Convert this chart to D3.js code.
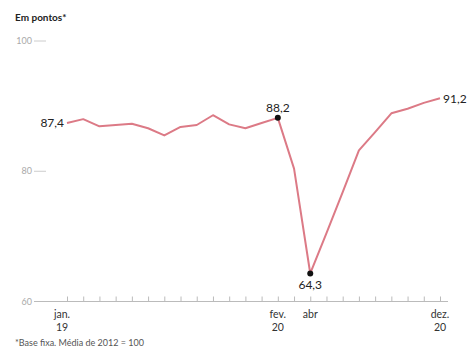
<!DOCTYPE html>
<html>
<head>
<meta charset="utf-8">
<script src="https://cdn.jsdelivr.net/npm/d3@7"></script>
<style>
  html, body { margin: 0; padding: 0; background: #fff; }
  svg { display: block; font-family: Lato, "Open Sans", sans-serif; }
</style>
</head>
<body>
<svg id="chart" width="475" height="360"></svg>
<script>
// Monthly index, jan/2019 – dez/2020
const months = ["2019-01","2019-02","2019-03","2019-04","2019-05","2019-06",
                "2019-07","2019-08","2019-09","2019-10","2019-11","2019-12",
                "2020-01","2020-02","2020-03","2020-04","2020-05","2020-06",
                "2020-07","2020-08","2020-09","2020-10","2020-11","2020-12"];
const values = [87.4, 88.0, 86.9, 87.1, 87.3, 86.6,
                85.5, 86.8, 87.1, 88.6, 87.2, 86.6,
                87.4, 88.2, 80.4, 64.3, 70.5, 76.8,
                83.2, 86.0, 88.9, 89.6, 90.5, 91.2];
const yTicks = [60, 80, 100];
const xLabels = [
  { month: "2019-01", lines: ["jan.", "19"] },
  { month: "2020-02", lines: ["fev.", "20"] },
  { month: "2020-04", lines: ["abr"] },
  { month: "2020-12", lines: ["dez.", "20"] }
];
// Points with a value callout: [month, side]
const callouts = [
  { month: "2019-01", pos: "left" },
  { month: "2020-02", pos: "top", dot: true },
  { month: "2020-04", pos: "bottom", dot: true },
  { month: "2020-12", pos: "right" }
];
const title = "Em pontos*";
const note = "*Base fixa. Média de 2012 = 100";

const fmt = v => d3.format(".1f")(v).replace(".", ",");
const svg = d3.select("#chart");

const x = d3.scalePoint().domain(months).range([67, 440]);
const y = d3.scaleLinear().domain([60, 100]).range([301.5, 41]);
const valueOf = m => values[months.indexOf(m)];

// Title
svg.append("text")
  .attr("x", 15).attr("y", 21)
  .attr("font-size", 10).attr("font-weight", 700).attr("fill", "#222")
  .text(title);

// Y ticks: label + short dash
const yg = svg.append("g");
yTicks.forEach(t => {
  yg.append("text")
    .attr("x", 32).attr("y", y(t)).attr("dy", "0.35em")
    .attr("text-anchor", "end")
    .attr("font-size", 9).attr("fill", "#aaa")
    .text(t);
  if (t !== 60) {
    yg.append("line")
      .attr("x1", 34).attr("x2", 46)
      .attr("y1", y(t)).attr("y2", y(t))
      .attr("stroke", "#ccc").attr("stroke-width", 1);
  }
});

// Baseline
svg.append("line")
  .attr("x1", 34).attr("x2", 448)
  .attr("y1", y(60)).attr("y2", y(60))
  .attr("stroke", "#bbb").attr("stroke-width", 1);

// Monthly ticks
const xAxis = d3.axisTop(x).tickSize(5).tickFormat("");
const xg = svg.append("g")
  .attr("transform", `translate(0,${y(60)})`)
  .call(xAxis);
xg.select(".domain").remove();
xg.selectAll(".tick line").attr("stroke", "#bbb");

// Month labels
xLabels.forEach((d, i) => {
  const t = svg.append("text")
    .attr("x", x(d.month) + (i === 0 ? -5 : 0))
    .attr("y", 318)
    .attr("text-anchor", "middle")
    .attr("font-size", 10.5).attr("fill", "#333");
  d.lines.forEach((ln, j) => {
    t.append("tspan")
      .attr("x", x(d.month) + (i === 0 ? -5 : 0))
      .attr("dy", j === 0 ? 0 : 13)
      .text(ln);
  });
});

// Line
const line = d3.line()
  .x((d, i) => x(months[i]))
  .y(d => y(d));
svg.append("path")
  .datum(values)
  .attr("fill", "none")
  .attr("stroke", "#dc7a86")
  .attr("stroke-width", 2)
  .attr("stroke-linejoin", "round")
  .attr("d", line);

// Callouts
callouts.forEach(c => {
  const cx = x(c.month), cy = y(valueOf(c.month));
  if (c.dot) {
    svg.append("circle")
      .attr("cx", cx).attr("cy", cy).attr("r", 3)
      .attr("fill", "#111");
  }
  const t = svg.append("text")
    .attr("font-size", 12).attr("fill", "#222")
    .text(fmt(valueOf(c.month)));
  if (c.pos === "left") {
    t.attr("x", cx - 3).attr("y", cy).attr("dy", "0.35em").attr("text-anchor", "end");
  } else if (c.pos === "right") {
    t.attr("x", cx + 3).attr("y", cy).attr("dy", "0.35em").attr("text-anchor", "start");
  } else if (c.pos === "top") {
    t.attr("x", cx).attr("y", cy - 6).attr("text-anchor", "middle");
  } else {
    t.attr("x", cx).attr("y", cy + 16).attr("text-anchor", "middle");
  }
});

// Footnote
svg.append("text")
  .attr("x", 15).attr("y", 346)
  .attr("font-size", 9).attr("fill", "#555")
  .text(note);
</script>
</body>
</html>
